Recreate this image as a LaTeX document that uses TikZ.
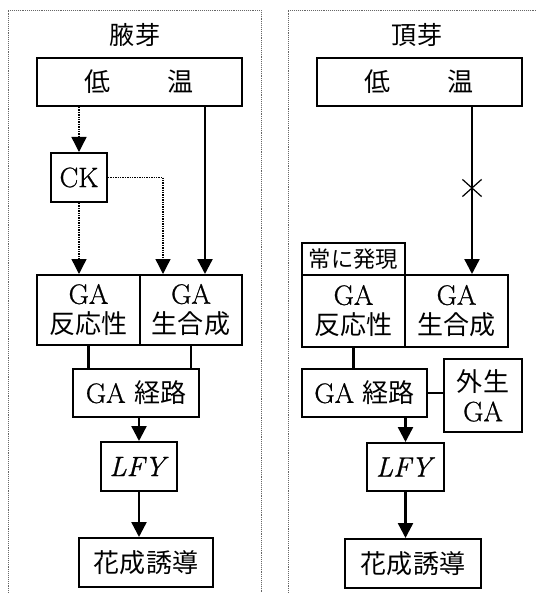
\documentclass[tikz,border=0pt]{standalone}
\usepackage{fontspec}
\setmainfont{Latin Modern Roman}[FakeBold=0.8]
\newfontfamily\jp[Scale=0.93]{Noto Sans CJK JP}
\usetikzlibrary{arrows.meta,positioning,shapes.misc}
\tikzset{>={Triangle[width=15pt,length=15pt]}}
\tikzset{
  box/.style={draw, line width=2pt, inner sep=0pt, align=center,
    font=\fontsize{28}{30}\selectfont},
  small/.style={box, font=\fontsize{24}{26}\selectfont},
  title/.style={font=\fontsize{27}{30}\selectfont},
  link/.style={line width=2.4pt},
  hint/.style={line width=1.4pt, densely dotted},
  frame/.style={black!60, line width=0.9pt, densely dotted},
}

\begin{document}
\begin{tikzpicture}[x=1pt, y=-1pt]
  \useasboundingbox (0,0) rectangle (537,593);
  % panels
  \draw[frame] (8,593) -- (8,10) -- (261,10) -- (261,593);
  \draw[frame] (288,593) -- (288,10) -- (537,10);

  % axillary bud
  \node[title] (titleL) at (135,35) {\jp 腋芽};
  \node[box, minimum width=205pt, minimum height=48pt] (lowL) at (139.5,82)
    {\jp 低\hspace{57pt}温};
  \node[box, minimum width=56pt, minimum height=49pt] (ckL) at (79,177.5) {CK};
  \node[box, minimum width=103pt, minimum height=70pt] (resL) at (88.5,310)
    {GA\\{\jp 反応性}};
  \node[box, minimum width=102pt, minimum height=70pt] (synL) at (191,310)
    {GA\\{\jp 生合成}};
  \node[box, minimum width=126pt, minimum height=48pt] (pathL) at (136,393)
    {GA {\jp 経路}};
  \node[box, minimum width=76pt, minimum height=49pt] (lfyL) at (139,466.5)
    {\textit{LFY}};
  \node[box, minimum width=134pt, minimum height=49pt] (flL) at (146,562.5)
    {\jp 花成誘導};

  \draw[hint,->] (ckL |- lowL.south) -- (ckL.north);
  \draw[hint,->] (ckL.south) -- (ckL.south |- resL.north);
  \coordinate (ckinL) at ([xshift=-28pt]synL.north);
  \draw[hint,->] (ckL.east) -| (ckinL);
  \coordinate (lowinL) at ([xshift=14pt]synL.north);
  \draw[link,->] (lowinL |- lowL.south) -- (lowinL);
  \draw[link] (resL.south) -- (resL.south |- pathL.north);
  \draw[link] (synL.south) -- (synL.south |- pathL.north);
  \draw[link,->] (lfyL.north |- pathL.south) -- (lfyL.north);
  \draw[link,->] (lfyL.south) -- (lfyL.south |- flL.north);

  % apical bud
  \node[title] (titleR) at (417,35) {\jp 頂芽};
  \node[box, minimum width=205pt, minimum height=48pt] (lowR) at (419.5,82)
    {\jp 低\hspace{57pt}温};
  \node[small, minimum width=103pt, minimum height=32pt] (alwR) at (353.5,259)
    {\jp 常に発現};
  \node[box, minimum width=103pt, minimum height=72pt] (resR) at (353.5,311)
    {GA\\{\jp 反応性}};
  \node[box, minimum width=103pt, minimum height=72pt] (synR) at (456.5,311)
    {GA\\{\jp 生合成}};
  \node[box, minimum width=125pt, minimum height=48pt] (pathR) at (364.5,393)
    {GA {\jp 経路}};
  \node[box, minimum width=78pt, minimum height=73pt] (exoR) at (483,395.5)
    {{\jp 外生}\\GA};
  \node[box, minimum width=77pt, minimum height=48pt] (lfyR) at (405.5,467)
    {\textit{LFY}};
  \node[box, minimum width=136pt, minimum height=49pt] (flR) at (413,563.5)
    {\jp 花成誘導};

  \coordinate (lowinR) at ([xshift=15.5pt]synR.north);
  \draw[link,->] (lowinR |- lowR.south) -- (lowinR);
  \node[draw, cross out, line width=1.2pt, inner sep=0pt, minimum width=18pt,
    minimum height=16pt] (cutR) at (lowinR |- 0,188) {};
  \draw[link] (resR.south) -- (resR.south |- pathR.north);
  \draw[link] (pathR.east) -- (pathR.east -| exoR.west);
  \draw[link,->] (lfyR.north |- pathR.south) -- (lfyR.north);
  \draw[link,->] (lfyR.south) -- (lfyR.south |- flR.north);
\end{tikzpicture}
\end{document}
